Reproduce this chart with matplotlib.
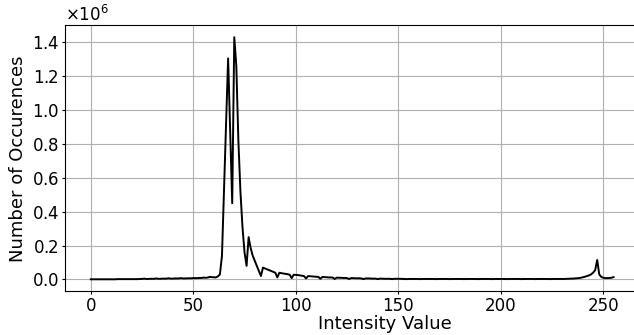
import matplotlib
matplotlib.use("Agg")
import matplotlib.pyplot as plt
from matplotlib.ticker import MultipleLocator
import numpy as np

# histogram counts per intensity value, in thousands
counts_k = [
    1, 1, 1, 1, 1, 1, 1, 1, 1, 1,
    1, 1, 1, 2, 2, 2, 2, 2, 2, 2,
    2, 2, 2, 2, 3, 3, 5, 3, 3, 4,
    4, 4, 6, 4, 4, 5, 5, 5, 7, 5,
    5, 6, 6, 6, 8, 6, 6, 7, 7, 7,
    8, 8, 8, 9, 9, 11, 10, 11, 15, 14,
    13, 12, 18, 30, 140, 520, 920, 1305, 880, 450,
    1430, 1260, 820, 520, 310, 160, 80, 250, 185, 140,
    110, 80, 50, 20, 70, 65, 60, 55, 50, 45,
    40, 12, 40, 37, 35, 33, 31, 28, 8, 28,
    27, 26, 24, 22, 20, 6, 20, 19, 18, 17,
    16, 15, 4, 15, 14, 13, 12, 12, 11, 3,
    11, 10, 10, 9, 9, 8, 3, 8, 8, 7,
    7, 7, 6, 2, 6, 6, 6, 5, 5, 5,
    2, 5, 5, 4, 4, 4, 4, 2, 4, 4,
    4, 4, 3, 3, 2, 3, 3, 3, 3, 3,
    3, 2, 3, 3, 3, 3, 3, 3, 2, 3,
    3, 3, 3, 3, 3, 2, 3, 3, 3, 3,
    3, 3, 2, 3, 3, 3, 3, 3, 3, 2,
    3, 3, 3, 3, 3, 3, 2, 3, 3, 3,
    3, 3, 3, 2, 3, 3, 3, 3, 3, 3,
    2, 3, 3, 3, 3, 3, 3, 2, 3, 3,
    3, 3, 3, 3, 2, 3, 3, 3, 3, 3,
    3, 3, 4, 4, 5, 5, 6, 7, 8, 10,
    13, 16, 20, 24, 30, 40, 55, 115, 30, 15,
    10, 8, 8, 9, 10, 14,
]
intensity = np.arange(len(counts_k))
counts = np.array(counts_k) * 1000

fig = plt.figure(figsize=(6.34, 3.35), dpi=100)
# axes run past the right edge of the picture (the reference is cropped there)
ax = fig.add_axes([64.6/634, 1 - 291.4/335, 640/634, 266.3/335])

ax.plot(intensity, counts, color="black", linewidth=1.4)
ax.set_xlim(-12.75, -12.75 + 640/2.0504)
ax.set_xticks([0, 50, 100, 150, 200, 250])
ax.yaxis.set_major_locator(MultipleLocator(0.2e6))
ax.grid(True)
ax.set_xlabel("Intensity Value", fontsize=13, labelpad=0)
ax.set_ylabel("Number of Occurences", fontsize=13, labelpad=3)
ax.tick_params(labelsize=12, length=2.5, pad=1.5)
ax.ticklabel_format(axis="y", style="sci", scilimits=(0, 0), useMathText=True)
ax.yaxis.get_offset_text().set_fontsize(12)

fig.savefig("out.png", dpi=100)
